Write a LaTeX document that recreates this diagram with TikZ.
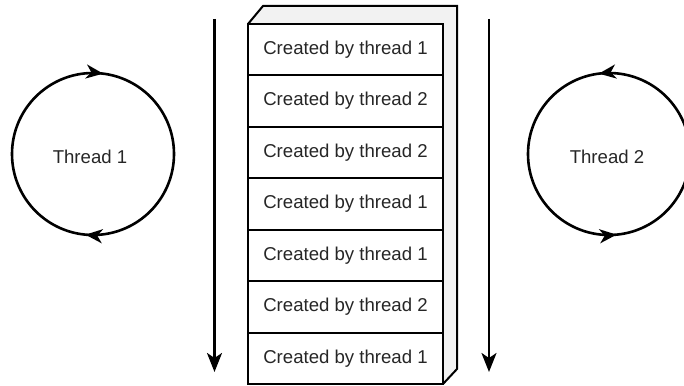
\documentclass[tikz,border=0pt]{standalone}
\usepackage{fontspec}
\setmainfont{Liberation Sans}
\usetikzlibrary{arrows.meta,decorations.markings}
\definecolor{facegray}{HTML}{F2F2F2}
\definecolor{txtgray}{HTML}{262626}
\tikzset{
  edge/.style={line width=2.6pt, draw=black},
  rowbox/.style={draw=black, line width=2pt, fill=white, minimum width=195pt, minimum height=51.43pt, inner sep=0pt, font=\fontsize{18.6pt}{20pt}\selectfont, text=txtgray},
  lbl/.style={font=\fontsize{18.6pt}{20pt}\selectfont, text=txtgray, inner sep=0pt},
  tip/.style={-{Stealth[length=19pt,width=15pt,inset=5pt]}},
  cw/.style={decoration={markings,
      mark=at position 0.27 with {\arrow{Stealth[length=17pt,width=14pt,inset=5pt]}},
      mark=at position 0.765 with {\arrow{Stealth[length=17pt,width=14pt,inset=5pt]}}},
      postaction={decorate}},
  ccw/.style={decoration={markings,
      mark=at position 0.27 with {\arrow{Stealth[length=17pt,width=14pt,inset=5pt]}},
      mark=at position 0.765 with {\arrow{Stealth[length=17pt,width=14pt,inset=5pt]}}},
      postaction={decorate}}
}
\begin{document}
\begin{tikzpicture}[x=1pt,y=1pt]
\useasboundingbox (0,0) rectangle (684,-385);
% 3D shell of the stack
\coordinate (fl) at (248,-24);
\coordinate (fr) at (443,-24);
\coordinate (bl) at (263,-6);
\coordinate (br) at (457,-6);
\coordinate (rb) at (457,-369);
\coordinate (fb) at (443,-384);
\fill[facegray] (fl) -- (bl) -- (br) -- (rb) -- (fb) -- (fr) -- cycle;
\draw[line width=2pt, line join=miter] (fl) -- (bl) -- (br) -- (rb) -- (fb);
% rows
\foreach \t [count=\i] in {1,2,2,1,1,2,1} {
  \node[rowbox] (r\i) at (345.5,{-24-51.43*(\i-0.5)}) {Created by thread \t};
}
% vertical arrows
\coordinate (a1s) at (214.5,-19);
\coordinate (a1e) at (214.5,-372);
\coordinate (a2s) at (489,-19);
\coordinate (a2e) at (489,-372);
\draw[edge, tip] (a1s) -- (a1e);
\draw[edge, tip] (a2s) -- (a2e);
% thread circles
\node[lbl] (t1) at (90,-157) {Thread 1};
\node[lbl] (t2) at (607,-157) {Thread 2};
\draw[line width=2.6pt, cw] (t1.center) ++(3,3) ++(180:81) arc[start angle=180, end angle=-180, radius=81];
\draw[line width=2.6pt, ccw] (t2.center) ++(2,3) ++(0:81) arc[start angle=0, end angle=360, radius=81];
\end{tikzpicture}
\end{document}
